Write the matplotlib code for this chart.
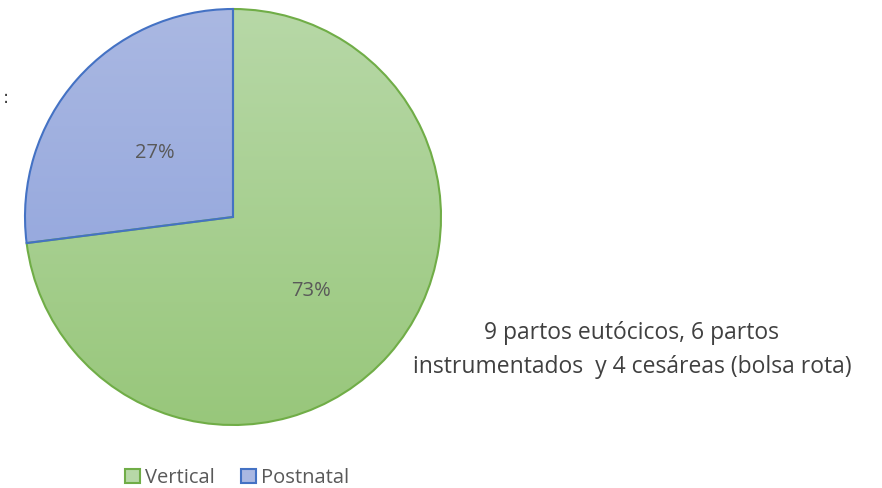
import numpy as np
import matplotlib.pyplot as plt
from matplotlib.patches import Patch
from matplotlib.colors import LinearSegmentedColormap

labels = ['Vertical', 'Postnatal']
values = [73, 27]
top_colors = ['#b7d8a7', '#aab8e2']
bottom_colors = ['#98c77b', '#8a9fdb']
edge_colors = ['#70ad47', '#4472c4']
note = '9 partos eutócicos, 6 partos\ninstrumentados  y 4 cesáreas (bolsa rota)'

W, H = 882, 488
fig = plt.figure(figsize=(W / 100, H / 100), dpi=100)
ax = fig.add_axes([0, 0, 1, 1])

cx, cy, r = 233, H - 217, 208
wedges, texts, autotexts = ax.pie(
    values, startangle=90, counterclock=False, center=(cx, cy), radius=r,
    autopct='%1.0f%%', pctdistance=0.5, colors=['none', 'none'],
    wedgeprops=dict(linewidth=1.5),
    textprops=dict(color='#595959', fontsize=14.5, family='Open Sans'))

# gradient fill clipped to each wedge
grad = np.linspace(0, 1, 256).reshape(-1, 1)
for w, c0, c1, ec in zip(wedges, top_colors, bottom_colors, edge_colors):
    w.set_edgecolor(ec)
    w.set_zorder(2)
    cmap = LinearSegmentedColormap.from_list('g', [c1, c0])
    im = ax.imshow(grad, cmap=cmap, extent=(cx - r, cx + r, cy - r, cy + r),
                   origin='lower', aspect='auto', zorder=1)
    im.set_clip_path(w)
for t in autotexts:
    t.set_zorder(3)
    x, y = t.get_position()
    t.set_position((x, y - 5))

ax.set_xlim(0, W)
ax.set_ylim(0, H)
ax.set_aspect('equal')
ax.axis('off')

ax.text(632, H - 350, note, ha='center', va='center', fontsize=16.5,
        color='#404040', family='Open Sans', linespacing=1.55)
ax.text(3, H - 98, ':', ha='left', va='center', fontsize=13, color='#404040')

handles = [Patch(facecolor=c, edgecolor=e, linewidth=1.5)
           for c, e in zip(top_colors, edge_colors)]
ax.legend(handles, labels, loc='center', bbox_to_anchor=(237 / W, 10 / H),
          ncol=2, frameon=False, handlelength=0.75, handleheight=0.75,
          handletextpad=0.25, columnspacing=1.3,
          prop=dict(family='Open Sans', size=14.5), labelcolor='#595959')

fig.savefig('out.png', dpi=100)
